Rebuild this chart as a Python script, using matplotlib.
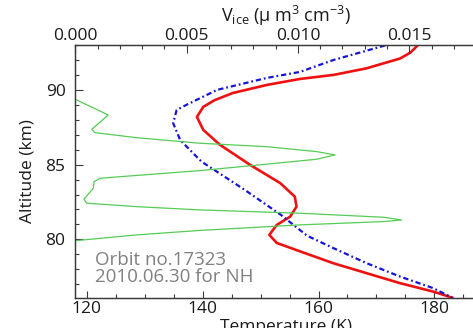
import matplotlib
matplotlib.use("Agg")
import matplotlib.pyplot as plt
from matplotlib.ticker import MultipleLocator

plt.rcParams["font.family"] = ["Open Sans", "DejaVu Sans"]
plt.rcParams["mathtext.fontset"] = "custom"
plt.rcParams["mathtext.rm"] = "Open Sans"

# ── Data ────────────────────────────────────────────────────────────────────
red_alt = [92.97, 92.5, 92.1, 91.44, 91.0, 90.73, 90.33, 89.79, 89.3, 88.86, 88.19,
           87.32, 86.32, 84.98, 83.76, 82.86, 82.19, 81.52, 80.97, 80.3, 79.76,
           79.2, 78.4, 77.74, 77.07, 76.51, 76.1]
red_temp = [177.1, 175.9, 174.1, 168.3, 162.6, 156.8, 151.1, 145.2, 142.0, 140.1, 139.0,
            140.1, 143.0, 148.2, 153.4, 155.9, 156.2, 155.1, 152.8, 151.5, 152.8,
            156.8, 162.6, 168.3, 174.1, 179.8, 183.1]

blue_alt = [92.97, 92.0, 91.2, 90.8, 90.0, 89.0, 88.65, 87.77, 86.65, 85.78,
            85.2, 83.3, 81.64, 80.25, 79.41, 78.41, 77.51, 76.74, 76.1]
blue_temp = [171.5, 162.6, 156.8, 151.1, 142.5, 137.2, 135.5, 134.9, 136.1, 138.3,
             139.8, 147.3, 153.5, 158.0, 162.6, 168.3, 174.1, 179.8, 183.1]

ice_alt = [93.0, 89.37, 88.32, 87.36, 87.14, 86.8, 86.43, 86.2, 85.87, 85.65,
           85.36, 85.03, 84.6, 84.09, 83.86, 83.42, 82.69, 82.42, 82.19, 81.97,
           81.75, 81.48, 81.3, 81.19, 80.97, 80.6, 80.3, 79.92, 79.9, 76.1]
ice_vol = [0.0, 0.0, 0.00148, 0.00074, 0.00088, 0.00276, 0.0056, 0.0086, 0.01084, 0.01167,
           0.01084, 0.0086, 0.0056, 0.00111, 0.00084, 0.00081, 0.00039, 0.00051, 0.00276, 0.0056,
           0.01009, 0.01384, 0.01466, 0.01384, 0.01009, 0.0056, 0.00276, 0.00006, 0.0, 0.0]

# ── Figure ──────────────────────────────────────────────────────────────────
W, H = 473, 328
fig = plt.figure(figsize=(W / 100, H / 100), dpi=100, facecolor="white")
ax = fig.add_axes([75.3 / W, (H - 297.7) / H, 421 / W, 252.7 / H])
ax2 = ax.twiny()

spine_col = "#3a3a3a"
txt_col = "#1a1a1a"
fs = 12.5

ax.plot(red_temp, red_alt, color="#ee1111", lw=1.9, zorder=3)
ax.plot(blue_temp, blue_alt, color="#1515d8", lw=1.6,
        linestyle=(0, (2.4, 1.3, 0.8, 1.3)), zorder=3)
ax2.plot(ice_vol, ice_alt, color="#55cc55", lw=0.9, zorder=2)

ax.set_xlim(118.0, 190.7)
ax.set_ylim(76.1, 93.0)
ax2.set_xlim(0, 0.01891)

ax.xaxis.set_major_locator(MultipleLocator(20))
ax.xaxis.set_minor_locator(MultipleLocator(5))
ax.yaxis.set_major_locator(MultipleLocator(5))
ax.yaxis.set_minor_locator(MultipleLocator(1))
ax2.xaxis.set_major_locator(MultipleLocator(0.005))
ax2.xaxis.set_minor_locator(MultipleLocator(0.001))
ax2.xaxis.set_major_formatter(lambda v, p: f"{v:.3f}")

for a in (ax, ax2):
    for s in a.spines.values():
        s.set_color(spine_col)
        s.set_linewidth(0.9)

ax.tick_params(axis="x", which="both", direction="in", top=False,
               colors=spine_col, labelcolor=txt_col, labelsize=fs, pad=2.5)
ax.tick_params(axis="y", which="both", direction="in", right=True,
               colors=spine_col, labelcolor=txt_col, labelsize=fs, pad=7)
ax2.tick_params(axis="x", which="both", direction="in",
                colors=spine_col, labelcolor=txt_col, labelsize=fs, pad=1)
for a in (ax, ax2):
    a.tick_params(which="major", length=5.4, width=0.8)
    a.tick_params(which="minor", length=3.2, width=0.8)

ax.set_xlabel("Temperature (K)", fontsize=fs, color=txt_col, labelpad=1)
ax.set_ylabel("Altitude (km)", fontsize=fs, color=txt_col, labelpad=7)
ax2.set_xlabel("V$_{\\rm ice}$ (µ m$^{3}$ cm$^{-3}$)", fontsize=13,
               color=txt_col, labelpad=4)

ax.text(0.047, 0.185, "Orbit no.17323\n2010.06.30 for NH", transform=ax.transAxes,
        ha="left", va="top", fontsize=13.5, color="#808080", linespacing=0.95)

fig.savefig("out.png", dpi=100, facecolor="white")
